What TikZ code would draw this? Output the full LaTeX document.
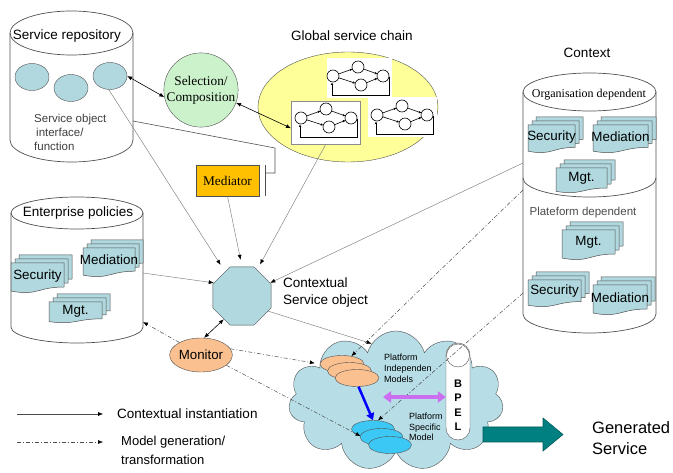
\documentclass[tikz,border=0pt]{standalone}
\usepackage{fontspec}
\setmainfont{Liberation Sans}
\newfontfamily\serifA{Liberation Serif}
\usetikzlibrary{shapes.geometric,shapes.symbols,arrows.meta}
\definecolor{lblue}{RGB}{176,216,222}
\definecolor{cloudc}{RGB}{183,221,230}
\definecolor{lgreen}{RGB}{204,242,204}
\definecolor{lyellow}{RGB}{255,255,153}
\definecolor{morange}{RGB}{255,192,0}
\definecolor{lorange}{RGB}{250,192,143}
\definecolor{cyanb}{RGB}{60,200,245}
\definecolor{tealA}{RGB}{0,128,128}
\definecolor{tealD}{RGB}{0,90,90}
\definecolor{violetA}{RGB}{204,110,240}
\definecolor{edgeA}{RGB}{80,80,80}
\definecolor{lineA}{RGB}{125,125,125}

% cylinder: L R topcy botcy ry
\newcommand\cylA[5]{%
  \pgfmathsetmacro\cyCx{(#1+#2)/2}\pgfmathsetmacro\cyRx{(#2-#1)/2}%
  \fill[white] (#1,#3) rectangle (#2,#4);
  \fill[white] (\cyCx,#4) ellipse [x radius=\cyRx, y radius=#5];
  \draw[cylst] (#1,#3) -- (#1,#4) .. controls (#1,#4+0.5523*#5) and (\cyCx-0.5523*\cyRx,#4+#5) .. (\cyCx,#4+#5) .. controls (\cyCx+0.5523*\cyRx,#4+#5) and (#2,#4+0.5523*#5) .. (#2,#4) -- (#2,#3);
  \draw[cylst] (\cyCx,#3) ellipse [x radius=\cyRx, y radius=#5];
}
% lower half ellipse: L R cy ry
\newcommand\halfEll[4]{%
  \pgfmathsetmacro\cyCx{(#1+#2)/2}\pgfmathsetmacro\cyRx{(#2-#1)/2}%
  \draw[cylst] (#1,#3) .. controls (#1,#3+0.5523*#4) and (\cyCx-0.5523*\cyRx,#3+#4) .. (\cyCx,#3+#4) .. controls (\cyCx+0.5523*\cyRx,#3+#4) and (#2,#3+0.5523*#4) .. (#2,#3);
}
% one document page x1 y1 x2 y2
\newcommand\docpg[4]{%
  \pgfmathsetmacro\dpA{#1}\pgfmathsetmacro\dpB{#2}\pgfmathsetmacro\dpC{#3}\pgfmathsetmacro\dpD{#4}%
  \pgfmathsetmacro\dpH{\dpD-\dpB}\pgfmathsetmacro\dpM{(\dpA+\dpC)/2}%
  \filldraw[docst] (\dpA,\dpB) -- (\dpC,\dpB) -- (\dpC,\dpB+0.8*\dpH) .. controls (\dpM,\dpB+0.8*\dpH) and (\dpM,\dpB+1.107*\dpH) .. (\dpA,\dpB+0.934*\dpH) -- cycle;
}
% stack of documents: name x1 y1 x2 y2 text
\newcommand\docstack[6]{%
  \docpg{#2+8}{#3}{#4}{#5-8}
  \docpg{#2+4}{#3+4}{#4-4}{#5-4}
  \docpg{#2}{#3+8}{#4-8}{#5}
  \node[doctext] (#1) at ({(#2+#4-8)/2},{#3+8+0.42*(#5-#3-8)}) {#6};
}
% small service chain graph
\newcommand\chainG[2]{%
 \begin{scope}[shift={(#1,#2)}]
  \filldraw[chn,fill=white] (10,18) circle[radius=6] (35,9) circle[radius=6] (38,27) circle[radius=6] (60,18) circle[radius=6];
  \draw[chn,-{Latex[length=2.5pt,width=2.5pt]}] (15.6,16) -- (29.4,11);
  \draw[chn,-{Latex[length=2.5pt,width=2.5pt]}] (15.7,19.8) -- (32.3,25.2);
  \draw[chn,-{Latex[length=2.5pt,width=2.5pt]}] (40.6,11) -- (54.4,16);
  \draw[chn,-{Latex[length=2.5pt,width=2.5pt]}] (43.6,24.7) -- (54.5,20.3);
  \draw[chn,-{Latex[length=2.5pt,width=2.5pt]}] (66,19) -- (66,37) -- (9,37) -- (9,24.5);
 \end{scope}}

\begin{document}
\begin{tikzpicture}[x=1pt,y=-1pt,
  cylst/.style={draw=edgeA, line width=0.7pt},
  docst/.style={draw=edgeA, fill=lblue, line width=0.5pt},
  doctext/.style={font=\fontsize{13.4}{15}\selectfont, inner sep=0},
  chn/.style={draw=black, line width=0.6pt},
  svcell/.style={ellipse, draw=edgeA, fill=lblue, inner sep=0, minimum width=34pt, minimum height=27pt},
  ctx/.style={draw=lineA, line width=0.45pt, -{Latex[length=5pt,width=4pt,color=black]}},
  gen/.style={draw=black!70, line width=0.5pt, dash pattern=on 4pt off 2pt on 1pt off 2pt, -{Latex[length=5pt,width=4pt,color=black]}},
  dbl/.style={draw=black, line width=0.6pt, {Latex[length=5pt,width=4pt]}-{Latex[length=5pt,width=4pt]}},
  brk/.style={draw=edgeA, line width=0.6pt},
  pimell/.style={ellipse, draw=edgeA, fill=lorange, inner sep=0, minimum width=44pt, minimum height=17pt},
  psmell/.style={ellipse, draw=edgeA, fill=cyanb, inner sep=0, minimum width=43pt, minimum height=17pt},
  chbox/.style={rectangle, fill=white, inner sep=0, anchor=north west},
  lbl/.style={font=\fontsize{13.5}{17}\selectfont, inner sep=0}
]
\useasboundingbox (0,0) rectangle (673,473);

% ---------- Service repository ----------
\cylA{10}{133}{33}{140}{22}
\node[lbl] (repotitle) at (67,36) {Service repository};
\node[svcell] (e1) at (32,77) {};
\node[svcell] (e2) at (71,88) {};
\node[svcell] (e3) at (110,76) {};
\node[font=\fontsize{11.5}{14}\selectfont, text=black!75, align=left, anchor=west, inner sep=0] (repotxt) at (34,132) {Service object\\\hspace{2pt}interface/\\function};
\coordinate (repo-r) at (133,121);

% ---------- Selection / Composition ----------
\node[circle, draw=edgeA, fill=lgreen, minimum size=72pt, inner sep=0, align=center, font=\serifA\fontsize{13.3}{16}\selectfont] (sel) at (201,90) {Selection/\\Composition};

% ---------- Global service chain ----------
\node[lbl] (gsctitle) at (352,36) {Global service chain};
\node[ellipse, draw=edgeA, fill=lyellow, minimum width=180pt, minimum height=110pt, inner sep=0] (gsc) at (348,107) {};
\node[chbox, minimum width=65pt, minimum height=40pt] (ch1) at (327,58) {};
\node[chbox, minimum width=69pt, minimum height=40pt] (ch3) at (368,97) {};
\node[chbox, draw=black!45, minimum width=69pt, minimum height=43pt] (ch2) at (291,101) {};
\chainG{323}{58}
\chainG{291}{100}
\chainG{367}{97}

% ---------- Mediator ----------
\node[rectangle, draw=edgeA, fill=morange, minimum width=63pt, minimum height=31pt, inner sep=0, font=\serifA\fontsize{13.3}{16}\selectfont] (med) at (227.5,180.5) {Mediator};

% ---------- Enterprise policies ----------
\cylA{11}{143}{213}{327}{16}
\node[lbl] (eptitle) at (78,213) {Enterprise policies};
\docstack{epmed}{83}{240}{143}{277}{Mediation}
\docstack{epsec}{11}{255}{72}{293}{Security}
\docstack{epmgt}{49}{294}{110}{323}{Mgt.}
\coordinate (ep-r) at (143,273);
\coordinate (ep-br) at (143,322);

% ---------- Context ----------
\node[lbl] (ctxtitle) at (587,53) {Context};
\cylA{523}{656}{92}{314}{19}
\halfEll{523}{656}{178}{19}
\node[font=\serifA\fontsize{12}{14}\selectfont, inner sep=0] (orgdep) at (589,95) {Organisation dependent};
\node[font=\fontsize{11.5}{14}\selectfont, text=black!70, inner sep=0] (platdep) at (583,213) {Plateform dependent};
\docstack{osec}{528}{117}{583}{153}{Security}
\docstack{omed}{593}{117}{656}{153}{Mediation}
\docstack{omgt}{556}{160}{615}{193}{Mgt.}
\docstack{pmgt}{562}{222}{623}{260}{Mgt.}
\docstack{psec}{528}{272}{589}{307}{Security}
\docstack{pmed}{593}{277}{655}{315}{Mediation}
\coordinate (ctx-a) at (523,163);
\coordinate (ctx-b) at (523,190);
\coordinate (ctx-c) at (523,293);

% ---------- Contextual service object ----------
\node[regular polygon, regular polygon sides=8, minimum size=63pt, inner sep=0, draw=edgeA, fill=lblue] (oct) at (242,296) {};
\node[lbl, align=left, anchor=west] (octtxt) at (283,293) {Contextual\\Service object};

% ---------- Monitor ----------
\node[ellipse, draw=edgeA, fill=lorange, minimum width=62pt, minimum height=34pt, inner sep=0, font=\fontsize{13.3}{16}\selectfont] (mon) at (201,355) {Monitor};

% ---------- Cloud ----------
\node[cloud, cloud puffs=11, aspect=1.55, draw=edgeA, fill=cloudc, minimum width=215pt, minimum height=140pt, inner sep=0] (cloud) at (396,401) {};
\node[pimell] (pim1) at (342,364) {};
\node[pimell] (pim2) at (349.5,371) {};
\node[pimell] (pim3) at (357,378) {};
\node[psmell] (psm1) at (373,429) {};
\node[psmell] (psm2) at (381.5,437) {};
\node[psmell] (psm3) at (390,445) {};
\node[font=\fontsize{9}{11}\selectfont, align=left, anchor=west, inner sep=0] (pimtxt) at (384,368) {Platform\\Independen\\Models};
\node[font=\fontsize{9}{10.5}\selectfont, align=left, anchor=west, inner sep=0] (psmtxt) at (409,427) {Platform\\Specific\\Model};
\node[rectangle, rounded corners=12pt, draw=edgeA, fill=white, minimum width=24pt, minimum height=97pt, inner sep=0] (bpel) at (458,391.5) {};
\draw[edgeA, fill=white] (458,355.5) circle[radius=11.5];
\node[font=\bfseries\fontsize{11}{14.5}\selectfont, align=center, inner sep=0] (bpeltxt) at (458,405) {B\\P\\E\\L};
\coordinate (va) at (383,397);

% ---------- Generated service ----------
\coordinate (ga) at (483,434.5);
\filldraw[fill=tealA, draw=tealD, line width=0.6pt] (ga) ++(0,-7.5) -- ++(60,0) -- ++(0,-9) -- ++(20,16.5) -- ++(-20,16.5) -- ++(0,-9) -- ++(-60,0) -- cycle;
\node[font=\fontsize{16.5}{21}\selectfont, align=left, anchor=west, inner sep=0] (gentxt) at (592,438) {Generated\\Service};

% ---------- Legend ----------
\coordinate (lg1a) at (17,414);
\coordinate (lg1b) at (103,414);
\coordinate (lg2a) at (17,442);
\coordinate (lg2b) at (103,442);
\draw[ctx, draw=black!70] (lg1a) -- (lg1b);
\draw[gen] (lg2a) -- (lg2b);
\node[lbl, anchor=west] (lgt1) at (117,414) {Contextual instantiation};
\node[font=\fontsize{13}{19}\selectfont, align=left, anchor=west, inner sep=0] (lgt2) at (121,450) {Model generation/\\transformation};

% ---------- Connectors ----------
\draw[dbl] (e3.east) -- (sel.191);
\draw[dbl] (sel.340) -- ([yshift=-5.5pt]ch2.west);
\draw[brk] (repo-r) -- (275,148) -- (275,173) -- (265,173);
\draw[brk] ([xshift=6pt]med.north east) -- ([xshift=6pt]med.south east);
\draw[ctx, shorten >=8pt] (e3.265) -- (oct.125);
\draw[ctx, shorten >=7pt] (med.south) -- (oct.north);
\draw[ctx, shorten >=6pt] (ch2.south) -- (oct.60);
\draw[ctx] (ep-r) -- (oct.155);
\draw[ctx] (ctx-a) -- (oct.25);
\draw[ctx] (oct.-30) -- (cloud.113);
\draw[dbl] (oct.232) -- (mon.80);
\draw[gen] (mon.150) -- (ep-br);
\draw[gen, shorten >=5pt] (mon.12) -- (pim1.west);
\draw[gen] (mon.-22) -- (psm1.210);
\draw[gen] (ctx-b) -- (pim1.40);
\draw[gen] (ctx-c) -- (psm1.60);
\draw[blue, line width=2.5pt, -{Triangle[length=7pt,width=8pt]}] (pim3.280) -- (psm1.north);
\draw[violetA, line width=3.5pt, {Triangle[length=8pt,width=11pt]}-{Triangle[length=8pt,width=11pt]}] (va) -- (bpel.west |- va);
\end{tikzpicture}
\end{document}
